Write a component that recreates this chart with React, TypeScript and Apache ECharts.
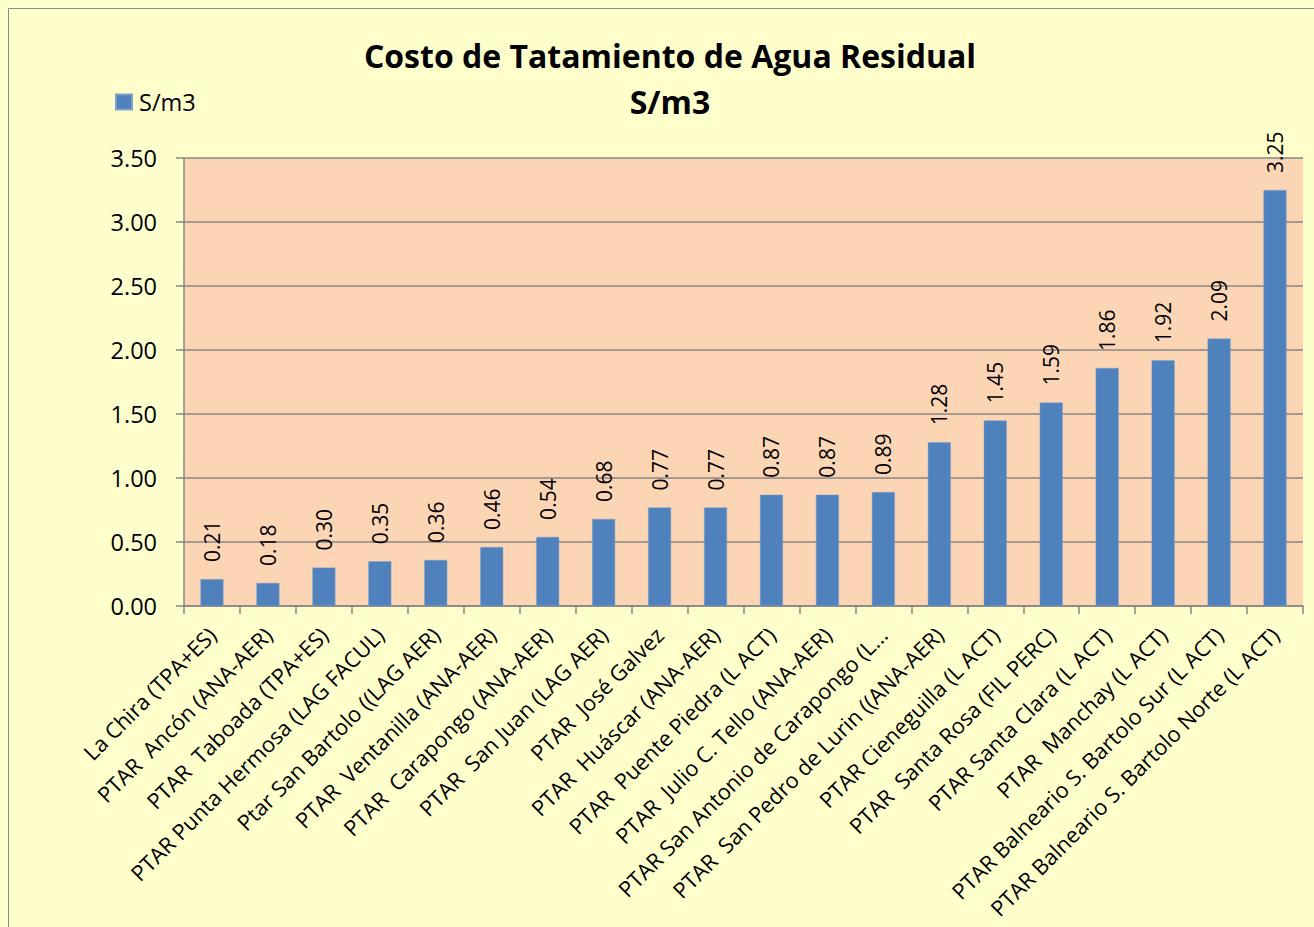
import React, { useEffect, useRef } from "react";
import * as echarts from "echarts";

const categories: string[] = [
  "La Chira (TPA+ES)",
  "PTAR  Ancón (ANA-AER)",
  "PTAR  Taboada (TPA+ES)",
  "PTAR Punta Hermosa (LAG FACUL)",
  "Ptar San Bartolo ((LAG AER)",
  "PTAR  Ventanilla (ANA-AER)",
  "PTAR  Carapongo (ANA-AER)",
  "PTAR  San Juan (LAG AER)",
  "PTAR  José Galvez",
  "PTAR  Huáscar (ANA-AER)",
  "PTAR  Puente Piedra (L ACT)",
  "PTAR  Julio C. Tello (ANA-AER)",
  "PTAR San Antonio de Carapongo (L...",
  "PTAR  San Pedro de Lurin ((ANA-AER)",
  "PTAR Cieneguilla (L ACT)",
  "PTAR  Santa Rosa (FIL PERC)",
  "PTAR Santa Clara (L ACT)",
  "PTAR  Manchay (L ACT)",
  "PTAR Balneario S. Bartolo Sur (L ACT)",
  "PTAR Balneario S. Bartolo Norte (L ACT)",
];

const values: number[] = [
  0.21, 0.18, 0.3, 0.35, 0.36, 0.46, 0.54, 0.68, 0.77, 0.77, 0.87, 0.87, 0.89,
  1.28, 1.45, 1.59, 1.86, 1.92, 2.09, 3.25,
];

const seriesName = "S/m3";
const titleLine1 = "Costo de Tatamiento de Agua Residual";
const titleLine2 = "S/m3";

const FONT = "'Open Sans', Lato, sans-serif";

export default function App() {
  const ref = useRef<HTMLDivElement>(null);
  useEffect(() => {
    if (!ref.current) return;
    const chart = echarts.init(ref.current, undefined, { renderer: "svg" });
    chart.setOption({
      animation: false,
      backgroundColor: "#FFFFCC",
      textStyle: { fontFamily: FONT },
      graphic: [
        {
          type: "rect",
          shape: { x: 8.5, y: 8.5, width: 1320, height: 930 },
          style: { fill: "none", stroke: "#8C8C8C", lineWidth: 1 },
          silent: true,
        },
        {
          type: "text",
          x: 670,
          y: 55,
          style: {
            text: titleLine1,
            fontFamily: FONT,
            fontWeight: "bold",
            fontSize: 32,
            fill: "#000",
            align: "center",
            verticalAlign: "middle",
          },
        },
        {
          type: "text",
          x: 670,
          y: 101,
          style: {
            text: titleLine2,
            fontFamily: FONT,
            fontWeight: "bold",
            fontSize: 32,
            fill: "#000",
            align: "center",
            verticalAlign: "middle",
          },
        },
      ],
      legend: {
        left: 115,
        top: 90,
        padding: 0,
        itemWidth: 16,
        itemHeight: 15,
        itemGap: 7,
        textStyle: { fontFamily: FONT, fontSize: 23.5, color: "#000", padding: [0, 0, 0, 2] },
        data: [{ name: seriesName, icon: "rect" }],
      },
      grid: { left: 184, right: 11, top: 158, bottom: 321, show: true, backgroundColor: "#FCD5B5", borderWidth: 0 },
      xAxis: {
        type: "category",
        data: categories,
        axisLine: { lineStyle: { color: "#868686", width: 1.5 } },
        axisTick: { show: true, alignWithLabel: false, length: 8, lineStyle: { color: "#868686", width: 1.5 } },
        axisLabel: {
          interval: 0,
          rotate: 45,
          margin: 25,
          fontFamily: FONT,
          fontSize: 21.8,
          color: "#000",
        },
      },
      yAxis: {
        type: "value",
        min: 0,
        max: 3.5,
        interval: 0.5,
        axisLine: { show: true, lineStyle: { color: "#868686", width: 1.5 } },
        axisTick: { show: true, length: 8, lineStyle: { color: "#868686", width: 1.5 } },
        splitLine: { lineStyle: { color: "#868686", width: 1.5 } },
        axisLabel: {
          margin: 27,
          fontFamily: FONT,
          fontSize: 23.5,
          color: "#000",
          formatter: (v: number) => v.toFixed(2),
        },
      },
      series: [
        {
          name: seriesName,
          type: "bar",
          data: values,
          barWidth: 23,
          itemStyle: { color: "#4F81BD", borderColor: "#7FA0CC", borderWidth: 0.5 },
          label: {
            show: true,
            position: "top",
            rotate: 90,
            align: "left",
            verticalAlign: "middle",
            distance: 17,
            fontFamily: FONT,
            fontSize: 21,
            color: "#000",
            formatter: (p: any) => Number(p.value).toFixed(2),
          },
        },
      ],
    });
    return () => chart.dispose();
  }, []);
  return (
    <div
      ref={ref}
      style={{ position: "absolute", left: 0, top: 0, width: 1314, height: 927 }}
    />
  );
}
